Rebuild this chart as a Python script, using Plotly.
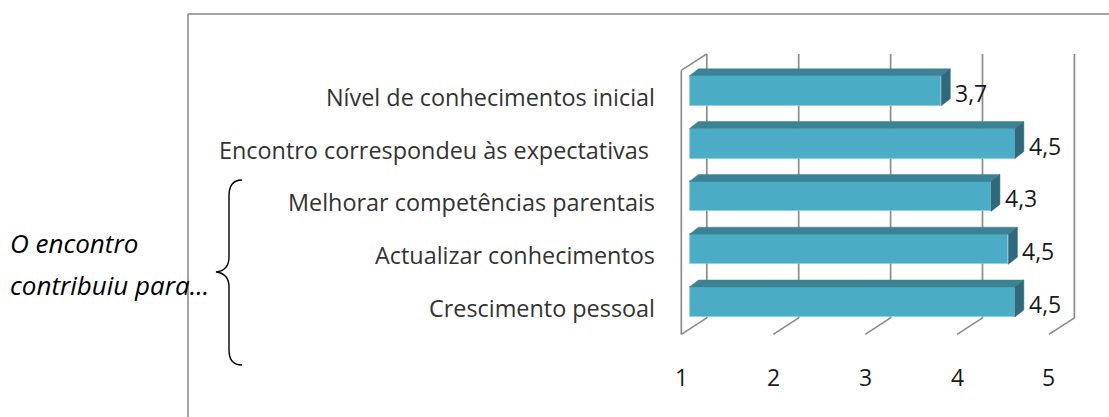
import plotly.graph_objects as go

# ---------------- data ----------------
categories = [
    "Nível de conhecimentos inicial",
    "Encontro correspondeu às expectativas\u00a0",
    "Melhorar competências parentais",
    "Actualizar conhecimentos",
    "Crescimento pessoal",
]
values = [3.74, 4.54, 4.28, 4.47, 4.54]
tick_values = [1, 2, 3, 4, 5]
tick_labels = ["1", "2", "3", "4", "5"]
side_note = ["O encontro", "contribuiu para..."]

# ---------------- geometry (pixel <-> data) ----------------
W, H = 1109, 417
X0, SX = 681.3, 91.9      # pixel of value 1 on front plane, px per unit
Y0, SY = 308.0, 52.8      # pixel of category 0 on front plane, px per category


def ux(px):
    return px / SX


def uy(px):
    return -px / SY


def paper_x(px):
    return px / W


def paper_y(py):
    return 1 - py / H


FULL_DX, FULL_DY = ux(25.5), uy(-16.5)   # depth of the 3D box
BF_DX, BF_DY = ux(8.2), uy(-6)           # bar front face offset
BD_DX, BD_DY = ux(9), uy(-7)             # bar depth
BAR_H = 30 / SY

FRONT = "#4BACC6"
TOP = "#3A8294"
SIDE = "#2E6A7B"
GRID = "#8C8C8C"

n = len(categories)
ypos = [n - 1 - k for k in range(n)]
y_lo, y_hi = -0.5, n - 0.5

fig = go.Figure()

# ---------------- walls / grid ----------------
shapes = []
for v in tick_values:
    shapes.append(dict(type="line", xref="x", yref="y", layer="below",
                       x0=v + FULL_DX, x1=v + FULL_DX,
                       y0=y_lo + FULL_DY, y1=y_hi + FULL_DY,
                       line=dict(color=GRID, width=1.7)))
    shapes.append(dict(type="line", xref="x", yref="y", layer="below",
                       x0=v, x1=v + FULL_DX, y0=y_lo, y1=y_lo + FULL_DY,
                       line=dict(color=GRID, width=1.7)))
shapes.append(dict(type="line", xref="x", yref="y", layer="below",
                   x0=tick_values[0], x1=tick_values[0], y0=y_lo, y1=y_hi,
                   line=dict(color=GRID, width=1.7)))
shapes.append(dict(type="line", xref="x", yref="y", layer="below",
                   x0=tick_values[0], x1=tick_values[0] + FULL_DX,
                   y0=y_hi, y1=y_hi + FULL_DY,
                   line=dict(color=GRID, width=1.7)))

# frame border
shapes.append(dict(type="line", xref="paper", yref="paper",
                   x0=paper_x(188), x1=paper_x(188), y0=paper_y(14), y1=paper_y(H + 5),
                   line=dict(color="#878787", width=1.5)))
shapes.append(dict(type="line", xref="paper", yref="paper",
                   x0=paper_x(188), x1=paper_x(W + 5), y0=paper_y(14), y1=paper_y(14),
                   line=dict(color="#878787", width=1.5)))

# curly brace
pts = [("M", [(242, 180)]),
       ("C", [(233, 180), (229, 185), (229, 196)]),
       ("L", [(229, 257)]),
       ("C", [(229, 266), (225, 271), (216, 272)]),
       ("C", [(225, 273), (229, 278), (229, 287)]),
       ("L", [(229, 350)]),
       ("C", [(229, 360), (233, 365), (242, 365)])]
path = " ".join(cmd + " " + " ".join(f"{paper_x(a):.5f},{paper_y(b):.5f}" for a, b in p)
                for cmd, p in pts)
shapes.append(dict(type="path", xref="paper", yref="paper", path=path,
                   line=dict(color="black", width=1.4)))

# ---------------- bars ----------------
base = tick_values[0] + BF_DX
fig.add_trace(go.Bar(
    orientation="h",
    y=[y + BF_DY for y in ypos],
    x=[v - tick_values[0] for v in values],
    base=base,
    width=BAR_H,
    marker=dict(color=FRONT, line=dict(color="#8ACFE0", width=0.8)),
    hoverinfo="skip",
))

for v, y in zip(values, ypos):
    yc = y + BF_DY
    yt, yb = yc + BAR_H / 2, yc - BAR_H / 2
    x1 = v + BF_DX
    fig.add_trace(go.Scatter(
        x=[base, x1, x1 + BD_DX, base + BD_DX, base],
        y=[yt, yt, yt + BD_DY, yt + BD_DY, yt],
        mode="lines", fill="toself", fillcolor=TOP,
        line=dict(color=TOP, width=0.5), hoverinfo="skip"))
    fig.add_trace(go.Scatter(
        x=[x1, x1 + BD_DX, x1 + BD_DX, x1, x1],
        y=[yb, yb + BD_DY, yt + BD_DY, yt, yb],
        mode="lines", fill="toself", fillcolor=SIDE,
        line=dict(color=SIDE, width=0.5), hoverinfo="skip"))

# ---------------- text ----------------
FONT = "Open Sans"
annotations = []
for c, y in zip(categories, ypos):
    annotations.append(dict(x=tick_values[0], y=y, xref="x", yref="y", text=c,
                            showarrow=False, xanchor="right", yanchor="middle",
                            xshift=-24, font=dict(family=FONT, size=23.4, color="#333333")))
for v, y in zip(values, ypos):
    label = f"{v:.1f}".replace(".", ",")
    annotations.append(dict(x=v + BF_DX + BD_DX, y=y + BF_DY, xref="x", yref="y",
                            text=label, showarrow=False, xanchor="left",
                            yanchor="middle", xshift=3, yshift=-2,
                            font=dict(family=FONT, size=23, color="#1a1a1a")))
for v, t in zip(tick_values, tick_labels):
    annotations.append(dict(x=v, y=y_lo, xref="x", yref="y", text=t,
                            showarrow=False, xanchor="center", yanchor="middle",
                            yshift=-43, font=dict(family=FONT, size=23, color="#1a1a1a")))
for k, t in enumerate(side_note):
    annotations.append(dict(x=paper_x(8), y=paper_y(243 + 42 * k), xref="paper", yref="paper",
                            text=t, showarrow=False, xanchor="left", yanchor="middle",
                            font=dict(family=FONT, size=26, color="black", style="italic")))

fig.update_layout(
    width=W, height=H,
    margin=dict(l=0, r=0, t=0, b=0),
    paper_bgcolor="white", plot_bgcolor="white",
    showlegend=False,
    bargap=0,
    xaxis=dict(visible=False, range=[1 - X0 / SX, 1 + (W - X0) / SX], fixedrange=True),
    yaxis=dict(visible=False, range=[(Y0 - H) / SY, Y0 / SY], fixedrange=True),
    shapes=shapes,
    annotations=annotations,
)

fig.write_html("out.html", config={"displayModeBar": False},
               post_script="document.body.style.margin='0';")
